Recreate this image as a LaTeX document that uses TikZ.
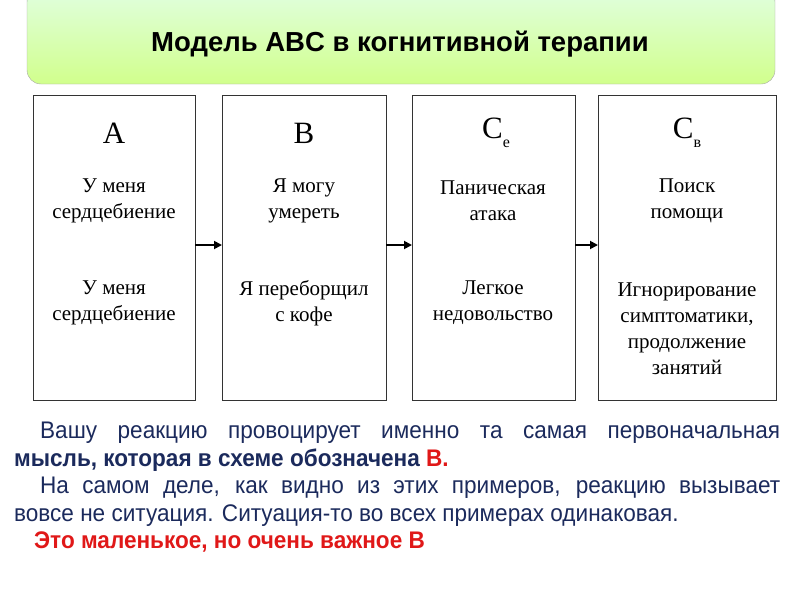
\documentclass[tikz,border=0pt]{standalone}
\usepackage{fontspec}
\setmainfont{Liberation Serif}
\newfontfamily\sansf{Liberation Sans}
\newfontfamily\narrowf[FakeStretch=0.94]{Liberation Sans}
\usetikzlibrary{arrows.meta}
\definecolor{navy}{HTML}{1B2A5C}
\definecolor{redx}{HTML}{E01818}
\begin{document}
\begin{tikzpicture}[x=1pt,y=-1pt,
 box/.style={draw=black!80,line width=0.9pt},
 tx/.style={font=\fontsize{21}{26}\selectfont,align=center,anchor=center},
 big/.style={font=\fontsize{31}{32}\selectfont,anchor=center},
 arr/.style={-{Triangle[length=8pt,width=8pt]},line width=1.8pt}]
\useasboundingbox (0,0) rectangle (800,592);
\shade[rounded corners=14pt,top color=green!12!white,bottom color=green!40!yellow!45!white,draw=gray!70] (27,-12) rectangle (775,84);
\node[font=\sansf\bfseries\fontsize{27.5}{32}\selectfont] (title) at (400,44) {Модель ABC в когнитивной терапии};
\draw[box] (33,95) rectangle (195,400);
\draw[box] (222,95) rectangle (386,400);
\draw[box] (412,95) rectangle (575,400);
\draw[box] (598,95) rectangle (776,400);
\node (r1) at (195,245) {}; \node (l2) at (222,245) {};
\node (r2) at (386,245) {}; \node (l3) at (412,245) {};
\node (r3) at (575,245) {}; \node (l4) at (598,245) {};
\draw[arr] (r1.center) -- (l2.center);
\draw[arr] (r2.center) -- (l3.center);
\draw[arr] (r3.center) -- (l4.center);
\node[big] (a) at (114,133) {A};
\node[big] (b) at (304,133) {B};
\node[big] (c) at (496,133) {C\raisebox{-9pt}{\fontsize{16}{16}\selectfont e}};
\node[big] (d) at (687,133) {C\raisebox{-9pt}{\fontsize{16}{16}\selectfont в}};
\node[tx] (a1) at (114,201) {У меня\\сердцебиение};
\node[tx] (a2) at (114,303) {У меня\\сердцебиение};
\node[tx] (b1) at (304,201) {Я могу\\умереть};
\node[tx] (b2) at (304,303) {Я переборщил\\с кофе};
\node[tx] (c1) at (493,201) {Паническая\\атака};
\node[tx] (c2) at (493,303) {Легкое\\недовольство};
\node[tx] (d1) at (687,201) {Поиск\\помощи};
\node[tx] (d2) at (687,329) {Игнорирование\\симптоматики,\\продолжение\\занятий};
\node[anchor=north west,text width=766pt,align=justify,inner sep=0pt,text=navy,
 font=\narrowf\fontsize{24}{27.5}\selectfont] (para) at (14,422)
 {\hspace*{26pt}Вашу реакцию провоцирует именно та самая первоначальная\linebreak {\bfseries мысль, которая в схеме обозначена \textcolor{redx}{B.}}\par
 \hspace*{26pt}На самом деле, как видно из этих примеров, реакцию вызывает\linebreak вовсе не ситуация. Ситуация-то во всех примерах одинаковая.\par
 \hspace*{20pt}{\bfseries\color{redx}Это маленькое, но очень важное B}};
\end{tikzpicture}
\end{document}
